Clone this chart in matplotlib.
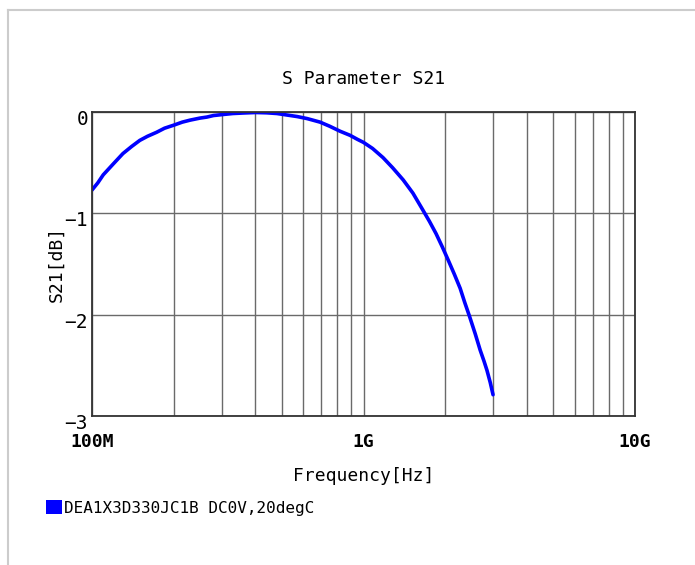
import matplotlib
matplotlib.use("Agg")
import matplotlib.pyplot as plt
from matplotlib.ticker import LogLocator, NullFormatter
from matplotlib.patches import Patch
from matplotlib.lines import Line2D
from matplotlib.transforms import ScaledTranslation

# ---- data ----
freq_hz = [1.0e8, 1.05e8, 1.1e8, 1.2e8, 1.3e8, 1.4e8, 1.5e8, 1.6e8, 1.73e8,
           1.85e8, 2.0e8, 2.15e8, 2.3e8, 2.5e8, 2.65e8, 2.8e8, 3.03e8, 3.3e8,
           3.6e8, 4.0e8, 4.4e8, 4.8e8, 5.23e8, 5.7e8, 6.2e8, 6.92e8, 7.5e8,
           8.2e8, 8.92e8, 9.5e8, 1.0e9, 1.08e9, 1.18e9, 1.28e9, 1.40e9,
           1.52e9, 1.64e9, 1.75e9, 1.85e9, 1.95e9, 2.05e9, 2.16e9, 2.27e9,
           2.36e9, 2.46e9, 2.58e9, 2.69e9, 2.78e9, 2.85e9, 2.93e9, 3.0e9]
s21_db = [-0.77, -0.70, -0.62, -0.51, -0.41, -0.34, -0.28, -0.24, -0.20,
          -0.16, -0.13, -0.10, -0.08, -0.06, -0.05, -0.035, -0.025, -0.015,
          -0.01, -0.005, -0.008, -0.015, -0.03, -0.045, -0.065, -0.10, -0.14,
          -0.19, -0.23, -0.27, -0.30, -0.36, -0.45, -0.55, -0.67,
          -0.80, -0.95, -1.08, -1.20, -1.33, -1.46, -1.60, -1.74,
          -1.88, -2.02, -2.19, -2.35, -2.46, -2.55, -2.67, -2.79]
x_ticks = [1e8, 1e9, 1e10]
x_tick_labels = ["100M", "1G", "10G"]
y_ticks = [0, -1, -2, -3]
y_tick_labels = ["0", "\u22121", "\u22122", "\u22123"]
title_text = "S Parameter S21"
x_label = "Frequency[Hz]"
y_label = "S21[dB]"
legend_label = "DEA1X3D330JC1B DC0V,20degC"

plt.rcParams['font.family'] = ['DejaVu Sans Mono', 'DejaVu Sans']

W, H = 695, 565
fig = plt.figure(figsize=(W / 100, H / 100), dpi=100)
ax = fig.add_axes([92 / W, 1 - 416 / H, (635 - 92) / W, (416 - 112) / H])

ax.plot(freq_hz, s21_db, color='#0000ff', lw=2.6, solid_capstyle='round',
        solid_joinstyle='round')

ax.set_xscale('log')
ax.set_xlim(1e8, 1e10)
ax.set_ylim(-3, 0)

ax.set_xticks(x_ticks, x_tick_labels)
ax.xaxis.set_minor_locator(LogLocator(base=10, subs=range(2, 10)))
ax.xaxis.set_minor_formatter(NullFormatter())
ax.set_yticks(y_ticks, [""] * len(y_ticks))

ax.grid(True, which='both', axis='x', color='#6a6a6a', lw=1.0)
ax.grid(True, which='major', axis='y', color='#6a6a6a', lw=1.0)
ax.set_axisbelow(True)

ax.tick_params(axis='both', which='both', length=0)
ax.tick_params(axis='x', pad=12, labelsize=13)
ax.tick_params(axis='y', pad=3)
for lab in ax.get_xticklabels():
    lab.set_fontweight('bold')

# y tick labels, slightly below their grid lines as in the reference
off = ScaledTranslation(-4 / 100, -7.5 / 100, fig.dpi_scale_trans)
for v, t in zip(y_ticks, y_tick_labels):
    ax.text(0, v, t, transform=ax.get_yaxis_transform() + off,
            ha='right', va='center', fontsize=14)

for s in ax.spines.values():
    s.set_color('#333333')
    s.set_linewidth(1.3)

ax.set_title(title_text, fontsize=13, pad=20)
ax.set_xlabel(x_label, fontsize=13, labelpad=12)
ax.set_ylabel(y_label, fontsize=13, labelpad=16)

fig.legend(handles=[Patch(facecolor='#0000ff', edgecolor='none', label=legend_label)],
           loc='center left', bbox_to_anchor=(46 / W, 1 - 508 / H),
           frameon=False, fontsize=11.5, handlelength=1.0, handleheight=1.0,
           handletextpad=0.15, borderpad=0, borderaxespad=0)

# outer border
fig.add_artist(Line2D([8 / W, 8 / W], [0, 1 - 10 / H], transform=fig.transFigure,
                      color='#cccccc', lw=1.5))
fig.add_artist(Line2D([8 / W, 1], [1 - 10 / H, 1 - 10 / H], transform=fig.transFigure,
                      color='#cccccc', lw=1.5))

fig.savefig("out.png", dpi=100)
